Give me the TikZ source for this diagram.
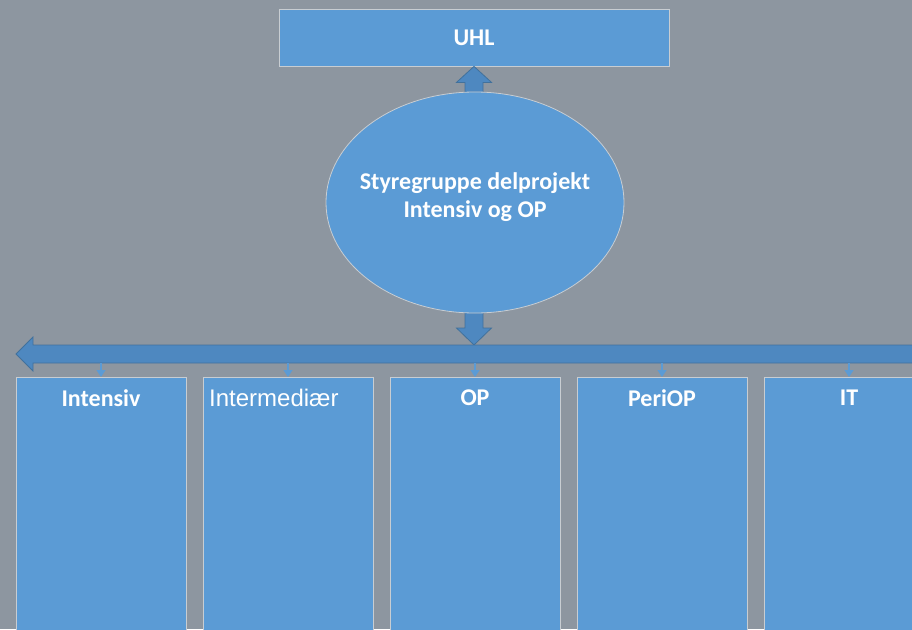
\documentclass[tikz,border=0pt]{standalone}
\usepackage{fontspec}
\setmainfont{Carlito}
\newfontfamily\arialf{Liberation Sans}
\usetikzlibrary{shapes.geometric,arrows.meta,calc}
\definecolor{bgc}{RGB}{141,150,160}
\definecolor{boxc}{RGB}{91,155,213}
\definecolor{arrc}{RGB}{78,136,192}
\definecolor{arre}{RGB}{65,113,156}
\definecolor{edgec}{RGB}{200,205,210}
\tikzset{
  box/.style={draw=edgec,line width=0.8pt,fill=boxc,rectangle,minimum width=170pt,minimum height=320pt,anchor=north,inner sep=0pt},
  topbox/.style={draw=edgec,line width=0.8pt,fill=boxc,rectangle,minimum width=390pt,minimum height=57pt,inner sep=0pt},
  oval/.style={draw=edgec,line width=0.8pt,fill=boxc,ellipse,minimum width=298pt,minimum height=221pt,inner sep=0pt},
  lbl/.style={text=white,font=\fontsize{24}{28}\selectfont\bfseries,align=center,inner sep=0pt},
  lblr/.style={text=white,font=\arialf\fontsize{24}{28}\selectfont,inner sep=0pt,anchor=west},
  blockarr/.style={fill=arrc,draw=arre,line width=0.8pt,line join=miter},
  tick/.style={draw=boxc,line width=1.2pt,-{Triangle[width=9pt,length=7pt]}}
}
\begin{document}
\begin{tikzpicture}[x=1pt,y=-1pt]
\fill[bgc] (0,0) rectangle (912,629);
\useasboundingbox (0,0) rectangle (912,629);
\begin{scope}
\clip (0,0) rectangle (912,629);
% top box
\node[topbox] (uhl) at (474,37.5) {};
\node[lbl] (uhlt) at (uhl.center) {UHL};
% ellipse position
\coordinate (ec) at (475,202.5);
% up arrow
\draw[blockarr] (uhl.south) -- ++(17.5,16) -- ++(-8.5,0) -- ++(0,22) -- ++(-18,0) -- ++(0,-22) -- ++(-8.5,0) -- cycle;
% down arrow
\coordinate (dtip) at (474,345);
\draw[blockarr] (dtip) -- ++(17.5,-17) -- ++(-8.5,0) -- ++(0,-25) -- ++(-18,0) -- ++(0,25) -- ++(-8.5,0) -- cycle;
% ellipse
\node[oval] (sg) at (ec) {};
\node[lbl] (sgt) at (475,197) {Styregruppe delprojekt\\Intensiv og OP};
% horizontal bar
\coordinate (htip) at (16,354);
\draw[blockarr] (htip) -- ++(17,-17) -- ++(0,8) -- (930,345) -- (930,363) -- (33,363) -- ++(0,8) -- cycle;
% boxes
\node[box] (b1) at (101,377) {};
\node[box] (b2) at (288,377) {};
\node[box] (b3) at (475,377) {};
\node[box] (b4) at (662,377) {};
\node[box] (b5) at (849,377) {};
\node[lbl] (t1) at (101,398) {Intensiv};
\node[lblr] (t2) at (209,398) {Intermediær};
\node[lbl] (t3) at (475,398) {OP};
\node[lbl] (t4) at (662,398) {PeriOP};
\node[lbl] (t5) at (849,398) {IT};
% small arrows
\foreach \b in {b1,b2,b3,b4,b5}{
  \draw[tick] (\b.north |- 0,363) -- (\b.north);
}
\end{scope}
\end{tikzpicture}
\end{document}
